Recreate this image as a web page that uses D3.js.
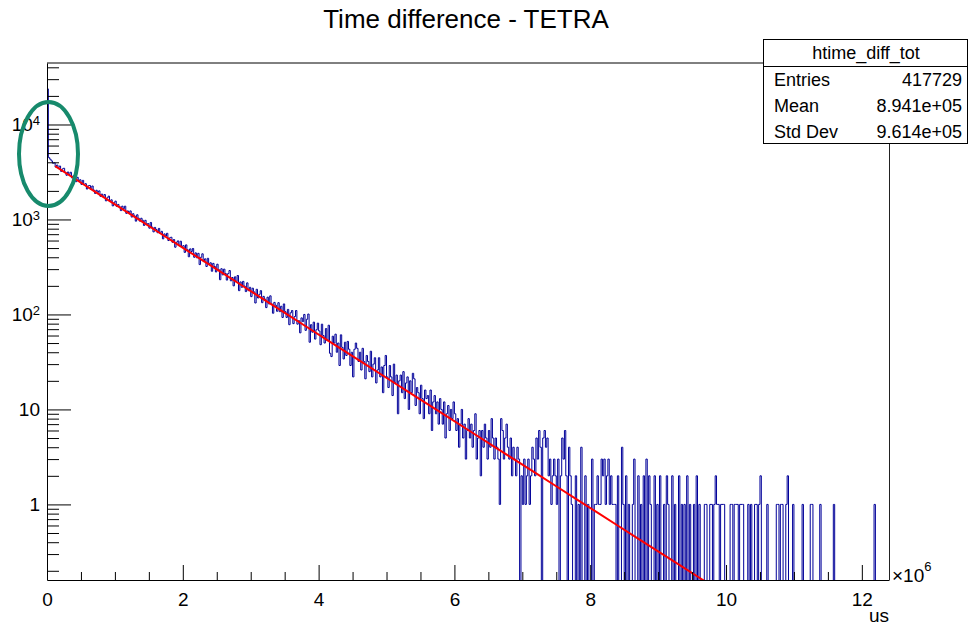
<!DOCTYPE html>
<html>
<head>
<meta charset="utf-8">
<script src="https://cdn.jsdelivr.net/npm/d3@7"></script>
<style>
body { margin: 0; background: #fff; }
text { font-family: "Liberation Sans", Arial, Helvetica, sans-serif; fill: #000; }
</style>
</head>
<body>
<script>
// histogram binning (us)
var binWidth = 20000;
var xMax = 12.4e6;

// bin contents, 100 bins per block
var countsA = [
  23700, 4480, 4310, 4140, 3910, 3940, 3570, 3740, 3520, 3650,
  3210, 3400, 3460, 3140, 2920, 3160, 2980, 3140, 2740, 2880,
  2770, 2500, 2780, 2570, 2620, 2340, 2580, 2340, 2380, 2090,
  2260, 2280, 2070, 2250, 2040, 1880, 2030, 1930, 2000, 1750,
  1850, 1740, 1830, 1570, 1690, 1760, 1555, 1610, 1390, 1500,
  1560, 1370, 1440, 1360, 1240, 1380, 1300, 1380, 1160, 1230,
  1170, 1230, 1060, 1150, 1090, 960, 1120, 1030, 960, 1030,
  980, 865, 980, 890, 905, 810, 930, 830, 740, 825,
  785, 725, 805, 715, 750, 625, 705, 670, 715, 600,
  640, 650, 575, 615, 510, 575, 595, 530, 590, 520
];
var countsB = [
  530, 450, 540, 480, 405, 490, 460, 495, 400, 445,
  395, 440, 335, 400, 435, 360, 385, 320, 390, 340,
  350, 285, 345, 320, 280, 338, 296, 232, 303, 261,
  300, 270, 230, 269, 290, 226, 245, 200, 249, 223,
  257, 178, 220, 193, 223, 199, 174, 215, 178, 193,
  154, 189, 173, 132, 184, 149, 163, 178, 133, 155,
  145, 118, 152, 129, 157, 129, 103, 134, 125, 108,
  133, 107, 122, 93, 129, 107, 93, 113, 78, 104,
  110, 80, 95, 110, 79, 86, 64, 92, 84, 100,
  68, 89, 101, 51, 78, 65, 83, 55, 69, 81
];
var countsC = [
  67, 48, 79, 60, 50, 71, 53, 77, 39, 36,
  59, 50, 62, 40, 50, 29, 61, 45, 34, 51,
  37, 52, 43, 29, 40, 22, 43, 50, 44, 32,
  40, 26, 44, 32, 21, 37, 32, 25, 41, 22,
  30, 35, 19, 26, 35, 22, 28, 15, 29, 37,
  22, 17, 29, 22, 14, 30, 19, 23, 9, 20,
  23, 15, 25, 13, 19, 22, 10, 20, 15, 24,
  21, 11, 17, 15, 9, 18, 13, 8, 16, 13,
  14, 9, 16, 6, 12, 14, 9, 12, 7, 13,
  10, 7, 12, 5, 9, 11, 6, 10, 8, 12
];
var countsD = [
  9, 6, 8, 4, 7, 10, 5, 7, 3, 6,
  8, 5, 7, 4, 6, 9, 3, 5, 6, 2,
  6, 4, 7, 5, 3, 6, 4, 8, 5, 3,
  5, 4, 3, 1, 8, 6, 3, 5, 7, 4,
  3, 5, 2, 4, 3, 2, 4, 3, 0, 2,
  1, 3, 1, 2, 3, 1, 2, 4, 3, 2,
  5, 3, 6, 4, 0, 5, 6, 4, 5, 2,
  3, 1, 2, 3, 2, 1, 3, 0, 2, 5,
  3, 6, 2, 0, 4, 2, 1, 0, 0, 2,
  0, 1, 0, 4, 0, 0, 2, 0, 1, 0
];
var countsE = [
  0, 3, 0, 1, 1, 2, 1, 1, 3, 2,
  3, 1, 2, 3, 1, 2, 1, 1, 1, 0,
  2, 0, 0, 4, 1, 0, 2, 0, 1, 0,
  0, 1, 3, 0, 0, 2, 0, 1, 0, 2,
  0, 3, 0, 2, 1, 0, 0, 2, 0, 1,
  0, 2, 0, 0, 1, 0, 2, 1, 0, 0,
  2, 0, 1, 0, 0, 2, 0, 1, 0, 1,
  0, 2, 0, 1, 0, 0, 1, 0, 2, 0,
  1, 0, 0, 0, 1, 1, 0, 0, 1, 1,
  0, 1, 2, 1, 1, 0, 1, 1, 1, 0
];
var countsF = [
  0, 0, 0, 1, 1, 0, 1, 1, 1, 0,
  1, 1, 1, 0, 0, 0, 1, 0, 1, 0,
  0, 1, 1, 0, 1, 2, 0, 0, 0, 0,
  1, 0, 0, 0, 0, 0, 0, 1, 1, 0,
  1, 1, 0, 0, 1, 2, 0, 0, 0, 1,
  0, 0, 0, 0, 0, 0, 1, 0, 0, 0,
  0, 0, 1, 1, 0, 0, 0, 0, 0, 1,
  0, 0, 0, 0, 0, 0, 0, 0, 0, 1,
  0, 0, 0, 0, 0, 0, 0, 0, 0, 0,
  0, 0, 0, 0, 0, 0, 0, 0, 0, 0,
  0, 0, 0, 0, 0, 0, 0, 0, 0, 1,
  0, 0, 0, 0, 0, 0, 0, 0, 0, 0
];
var counts = countsA.concat(countsB, countsC, countsD, countsE, countsF);

// expo fit: exp(p0 + p1*x)
var fitP0 = 8.326, fitP1 = -1.0516e-6;
var fitRange = [1.2e5, 12.4e6];

var xTicksMajor = [0, 2e6, 4e6, 6e6, 8e6, 10e6, 12e6];
var yTicksMajor = [1, 10, 100, 1000, 10000];

var histTitle = "Time difference - TETRA";
var statsName = "htime_diff_tot";
var statsLabels = ["Entries", "Mean", "Std Dev"];
var statsValues = ["417729", "8.941e+05", "9.614e+05"];

var W = 968, H = 626;
var fx0 = 47, fx1 = 889, fy0 = 63, fy1 = 580;

var svg = d3.select("body").append("svg")
    .attr("width", W).attr("height", H);

var x = d3.scaleLinear().domain([0, xMax]).range([fx0, fx1]);
var y = d3.scaleLog().domain([0.16, 44400]).range([fy1, fy0]);

svg.append("clipPath").attr("id", "frame")
  .append("rect").attr("x", fx0).attr("y", fy0)
  .attr("width", fx1 - fx0).attr("height", fy1 - fy0);

// histogram outline
var d = "M" + x(0) + "," + (fy1 + 5);
counts.forEach(function(c, i) {
    var yy = c > 0 ? y(c) : fy1 + 5;
    d += "L" + x(i * binWidth) + "," + yy + "L" + x((i + 1) * binWidth) + "," + yy;
});
d += "L" + x(xMax) + "," + (fy1 + 5);
svg.append("path")
    .attr("clip-path", "url(#frame)")
    .attr("d", d)
    .attr("fill", "none")
    .attr("stroke", "#000099")
    .attr("stroke-width", 1);

// fit curve
var fitPts = d3.range(0, 41).map(function(k) {
    return fitRange[0] + (fitRange[1] - fitRange[0]) * k / 40;
});
svg.append("path")
    .attr("clip-path", "url(#frame)")
    .attr("d", d3.line()
        .x(function(v) { return x(v); })
        .y(function(v) { return y(Math.exp(fitP0 + fitP1 * v)); })(fitPts))
    .attr("fill", "none")
    .attr("stroke", "#ff0000")
    .attr("stroke-width", 2);

// frame
svg.append("line").attr("x1", fx0).attr("x2", fx1).attr("y1", fy0).attr("y2", fy0)
    .attr("stroke", "#000").attr("stroke-width", 1);
svg.append("line").attr("x1", fx1 + 0.5).attr("x2", fx1 + 0.5).attr("y1", fy0).attr("y2", fy1)
    .attr("stroke", "#222").attr("stroke-width", 1);

// x axis
var xMinor = d3.range(0, xMax, 5e5).filter(function(v) { return v % 2e6 !== 0; });
svg.append("g").attr("transform", "translate(0," + fy1 + ")")
    .call(d3.axisBottom(x).tickValues(xMinor).tickSizeInner(-8).tickSizeOuter(0).tickFormat(""))
    .call(function(g) { g.select(".domain").remove(); });
var xAxis = svg.append("g").attr("transform", "translate(0," + fy1 + ")")
    .call(d3.axisBottom(x).tickValues(xTicksMajor).tickSizeInner(-15).tickSizeOuter(0)
        .tickPadding(13).tickFormat(function(v) { return v / 1e6; }));
xAxis.select(".domain").attr("stroke", "#000");
xAxis.selectAll("text").attr("font-size", 19).attr("font-family", "Liberation Sans, Arial, sans-serif");

var mult = svg.append("text").attr("x", 892).attr("y", 582).attr("font-size", 19);
mult.append("tspan").text("\u00d710");
mult.append("tspan").attr("dy", -11).attr("font-size", 13).text("6");
svg.append("text").attr("x", fx1).attr("y", 622).attr("text-anchor", "end")
    .attr("font-size", 19).text("us");

// y axis
var yMinor = [];
[0.1, 1, 10, 100, 1000, 10000].forEach(function(dec) {
    for (var k = 2; k <= 9; k++) {
        var v = dec * k;
        if (v > y.domain()[0] && v < y.domain()[1]) yMinor.push(v);
    }
});
svg.append("g").attr("transform", "translate(" + fx0 + ",0)")
    .call(d3.axisLeft(y).tickValues(yMinor).tickSizeInner(-12).tickSizeOuter(0).tickFormat(""))
    .call(function(g) { g.select(".domain").remove(); });
var yAxis = svg.append("g").attr("transform", "translate(" + fx0 + ",0)")
    .call(d3.axisLeft(y).tickValues(yTicksMajor).tickSizeInner(-24).tickSizeOuter(0).tickPadding(7));
yAxis.select(".domain").attr("stroke", "#000");
yAxis.selectAll(".tick text").attr("font-size", 19).attr("font-family", "Liberation Sans, Arial, sans-serif")
  .each(function(v) {
    var e = Math.round(Math.log10(v));
    var t = d3.select(this).text(null);
    if (e === 0) t.text("1");
    else if (e === 1) t.text("10");
    else {
        t.append("tspan").text("10");
        t.append("tspan").attr("dy", "-0.45em").attr("font-size", 13).text(e);
    }
  });

// title
svg.append("text").attr("x", 466).attr("y", 28).attr("text-anchor", "middle")
    .attr("font-size", 26).text(histTitle);

// stats box
var sb = svg.append("g");
sb.append("rect").attr("x", 763.5).attr("y", 39.5).attr("width", 204).attr("height", 104)
    .attr("fill", "#fff").attr("stroke", "#000").attr("stroke-width", 1);
sb.append("line").attr("x1", 763.5).attr("x2", 967.5).attr("y1", 66.5).attr("y2", 66.5)
    .attr("stroke", "#000");
sb.append("text").attr("x", 866).attr("y", 59).attr("text-anchor", "middle")
    .attr("font-size", 18).text(statsName);
statsLabels.forEach(function(lab, i) {
    sb.append("text").attr("x", 774).attr("y", 86 + i * 26).attr("font-size", 18).text(lab);
    sb.append("text").attr("x", 962).attr("y", 86 + i * 26).attr("text-anchor", "end")
        .attr("font-size", 18).text(statsValues[i]);
});

// marker ellipse
svg.append("ellipse").attr("cx", 48.5).attr("cy", 154).attr("rx", 29.5).attr("ry", 52)
    .attr("fill", "none").attr("stroke", "#178a6c").attr("stroke-width", 4);
</script>
</body>
</html>
